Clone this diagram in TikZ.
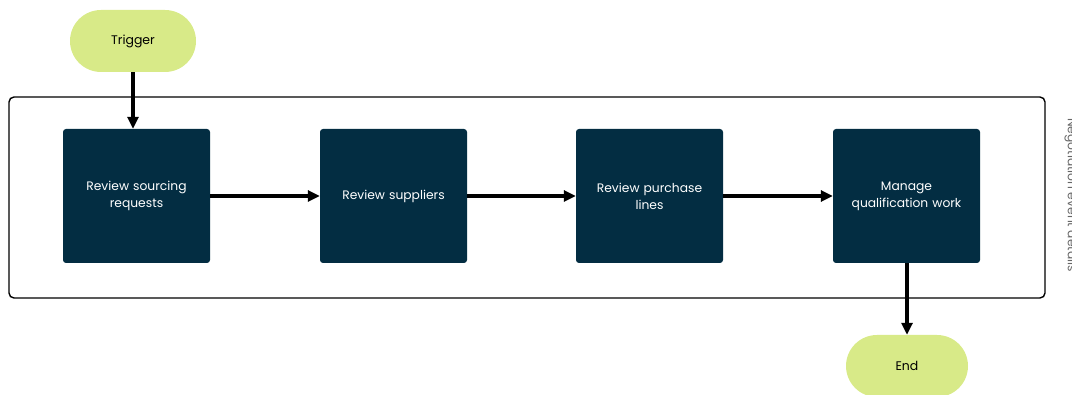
\documentclass[tikz,border=0pt]{standalone}
\usepackage{fontspec}
\setmainfont{Poppins}
\usetikzlibrary{arrows.meta}
\definecolor{navy}{HTML}{032D42}
\definecolor{lime}{HTML}{D8EA88}
\definecolor{lbl}{HTML}{666666}
\begin{document}
\begin{tikzpicture}[x=1pt,y=-1pt,
  term/.style={fill=lime, rounded corners=31pt, minimum width=126pt, minimum height=62pt, font=\fontsize{12.5}{16}\selectfont, text=black},
  proc/.style={fill=navy, rounded corners=3pt, minimum width=147pt, minimum height=134pt, text=white, align=center, font=\fontsize{12.3}{17}\selectfont, text width=140pt, inner sep=2pt},
  conn/.style={line width=3.5pt, -{Triangle[length=12pt,width=11pt]}}]
\useasboundingbox (0,0) rectangle (1072,395);
\draw[line width=1.4pt, rounded corners=5pt] (9,97) rectangle (1045,298);
\node[term] (trig) at (133,41) {Trigger};
\node[proc] (b1) at (136.5,196) {Review sourcing\\requests};
\node[proc] (b2) at (393.5,196) {Review suppliers};
\node[proc] (b3) at (649.5,196) {Review purchase\\lines};
\node[proc] (b4) at (906.5,196) {Manage\\qualification work};
\node[term, minimum width=122pt] (end) at (907,366) {End};
\node[rotate=-90, text=lbl, font=\fontsize{12.3}{16}\selectfont] (lab) at (1071,195) {Negotiation event details};
\draw[conn] (trig.south) -- (b1.north -| trig.south);
\draw[conn] (b1.east) -- (b2.west);
\draw[conn] (b2.east) -- (b3.west);
\draw[conn] (b3.east) -- (b4.west);
\draw[conn] (b4.south -| end.north) -- (end.north);
\end{tikzpicture}
\end{document}
